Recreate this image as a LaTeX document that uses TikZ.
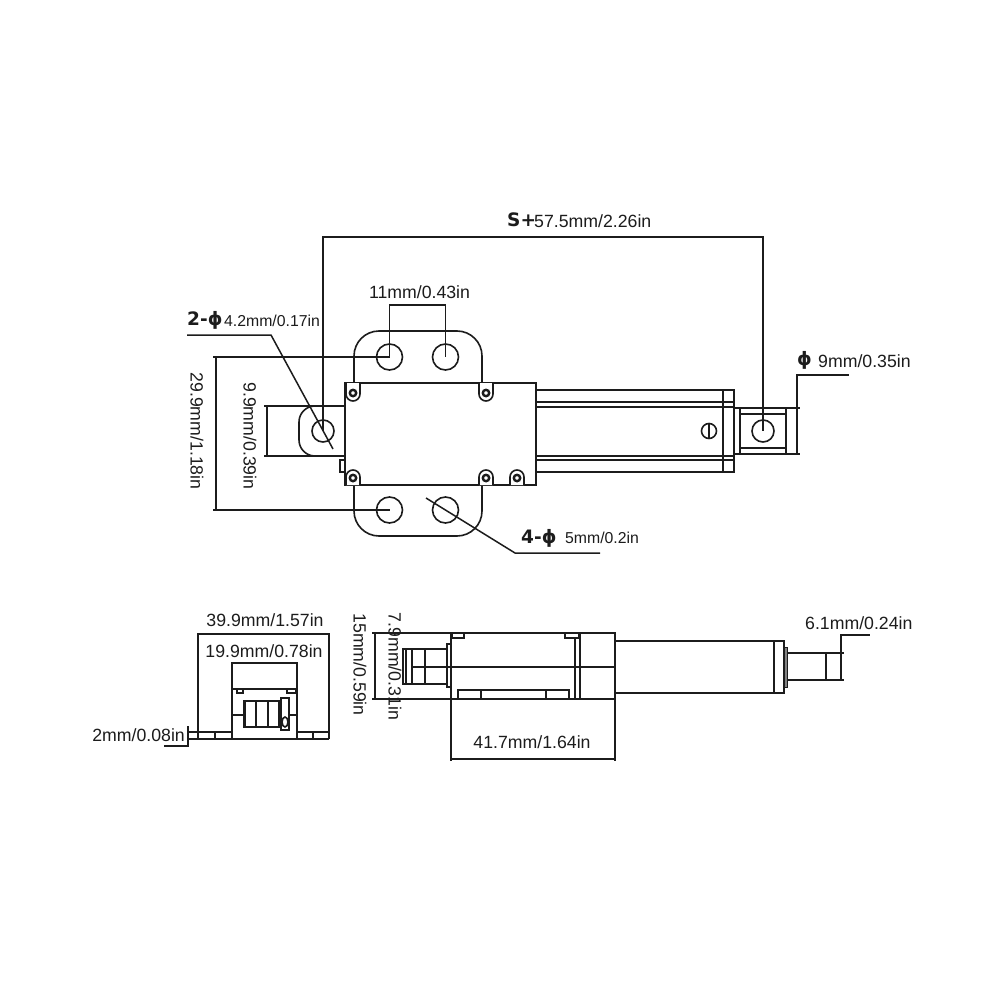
\documentclass[tikz,border=0pt]{standalone}
\usepackage{fontspec}
\setmainfont{Liberation Sans}
\newfontfamily\headfont{DejaVu Sans}[BoldFont={DejaVu Sans Bold}]
\definecolor{ink}{HTML}{1C1C1C}
\tikzset{
   part/.style={draw=ink,line width=1.6pt},
   dimline/.style={draw=ink,line width=1.5pt},
   heavy/.style={draw=ink,line width=2.4pt},
   hole/.style={circle,draw=ink,line width=1.6pt,minimum size=26pt,inner sep=0pt},
   dimtext/.style={text=ink,font=\fontsize{17.7}{20}\selectfont,inner sep=0pt},
   smalltext/.style={text=ink,font=\fontsize{15.8}{18}\selectfont,inner sep=0pt},
   headtext/.style={text=ink,font=\headfont\bfseries\fontsize{18.5}{22}\selectfont,inner sep=0pt},
}
\newcommand{\screwmark}[2]{%
   \draw[part,fill=white] (#1-7,#2+7) -- (#1-7,#2-1) arc[start angle=180,end angle=360,radius=7] -- (#1+7,#2+7);
   \draw[draw=ink,line width=2.4pt] (#1,#2) circle (3.2);}
\newcommand{\topscrew}[2]{%
   \draw[part,fill=white] (#1-7,#2-10) -- (#1-7,#2+1) arc[start angle=180,end angle=0,radius=7] -- (#1+7,#2-10);
   \draw[draw=ink,line width=2.4pt] (#1,#2) circle (3.2);}
\begin{document}
\begin{tikzpicture}[x=1pt,y=-1pt]
   \useasboundingbox[fill=white] (0,0) rectangle (1000,1000);
   % top view
   \draw[part,rounded corners=25pt] (354,390) -- (354,331) -- (482,331) -- (482,390);
   \draw[part,rounded corners=25pt] (354,480) -- (354,536) -- (482,536) -- (482,480);
   \draw[part,rounded corners=16pt] (345,406) -- (299,406) -- (299,456) -- (345,456);
   \draw[part] (536,390) -- (734,390) -- (734,472) -- (536,472);
   \foreach \ypos in {402,407,456,460}
      \draw[part] (536,\ypos) -- (734,\ypos);
   \draw[part] (723,390) -- (723,472);
   \draw[part] (734,408) rectangle (740,454);
   \draw[part] (740,408) rectangle (786,454);
   \draw[part] (740,414) -- (786,414);
   \draw[part] (740,448) -- (786,448);
   \draw[part] (340,460) rectangle (345,472);
   \draw[part,fill=white] (345,383) rectangle (536,485);
   \topscrew{353}{393}
   \topscrew{486}{393}
   \screwmark{353}{478}
   \screwmark{486}{478}
   \screwmark{517}{478}
   \node[hole] (holeA) at (389.5,357) {};
   \node[hole] (holeB) at (445.5,357) {};
   \node[hole] (holeC) at (389.5,510) {};
   \node[hole] (holeD) at (445.5,510) {};
   \node[hole,minimum size=22pt] (holeE) at (323,431) {};
   \node[hole,minimum size=22pt] (holeF) at (763,431) {};
   \node[hole,minimum size=15pt] (pin) at (709,431) {};
   \draw[part] (pin.north) -- (pin.south);
   % dimensions of the top view
   \coordinate (sL) at (323,237);
   \coordinate (sR) at (763,237);
   \draw[dimline] (holeE.center) -- (sL) -- (sR) -- (holeF.center);
   \node[headtext,anchor=west] (strokehead) at (507,220) {S+};
   \node[dimtext,anchor=west] (stroke) at (534,221) {57.5mm/2.26in};
   \coordinate (pitchL) at (389.5,305);
   \coordinate (pitchR) at (445.5,305);
   \draw[dimline] (holeA.center) -- (pitchL) -- (pitchR) -- (holeB.center);
   \node[dimtext] (pitch) at (419.5,292) {11mm/0.43in};
   \coordinate (spanT) at (213,357);
   \coordinate (spanB) at (213,510);
   \draw[dimline] (holeA.center) -- (spanT);
   \draw[dimline] (holeC.center) -- (spanB);
   \draw[dimline] (216,357) -- (216,510);
   \node[dimtext,rotate=-90] (span) at (197,431) {29.9mm/1.18in};
   \draw[dimline] (264,406) -- (345,406);
   \draw[dimline] (264,456) -- (345,456);
   \draw[dimline] (267,406) -- (267,456);
   \node[dimtext,rotate=-90] (earwidth) at (250,436) {9.9mm/0.39in};
   \coordinate (leadA) at (187,335);
   \coordinate (leadB) at (271,335);
   \coordinate (leadC) at (333,449);
   \draw[dimline] (leadA) -- (leadB) -- (leadC);
   \node[headtext,anchor=west] (twophi) at (187,320) {2-ϕ};
   \node[smalltext,anchor=west] (twophival) at (224,321) {4.2mm/0.17in};
   \coordinate (leadD) at (426,498);
   \coordinate (leadE) at (515,553);
   \coordinate (leadF) at (600,553);
   \draw[dimline] (leadD) -- (leadE) -- (leadF);
   \node[headtext,anchor=west] (fourphi) at (521,538) {4-ϕ};
   \node[smalltext,anchor=west] (fourphival) at (565,538) {5mm/0.2in};
   \coordinate (rodT) at (797,375);
   \coordinate (rodE) at (849,375);
   \draw[dimline] (786,408) -- (800,408);
   \draw[dimline] (786,454) -- (800,454);
   \draw[dimline] (797,454) -- (rodT) -- (rodE);
   \node[headtext,anchor=west] (onephi) at (797,360) {ϕ};
   \node[dimtext,anchor=west] (onephival) at (818,361) {9mm/0.35in};
   % end view
   \draw[part] (198,739) -- (198,634) -- (329,634) -- (329,739);
   \draw[part] (232,739) -- (232,663) -- (297,663) -- (297,739);
   \draw[part] (188,732) -- (232,732);
   \draw[part] (297,732) -- (329,732);
   \draw[part] (188,739) -- (329,739);
   \foreach \xpos in {215,313}
      \draw[part] (\xpos,732) -- (\xpos,739);
   \draw[part] (232,689) -- (297,689);
   \draw[part] (232,715) -- (297,715);
   \draw[part] (237,689) rectangle (243,693);
   \draw[part] (287,689) rectangle (296,693);
   \draw[part,fill=white] (244,701) rectangle (279,727);
   \draw[heavy] (245,701) -- (245,727);
   \foreach \xpos in {256,268}
      \draw[part] (\xpos,701) -- (\xpos,727);
   \draw[part,fill=white] (281,698) rectangle (289,730);
   \draw[part] (285,722) ellipse (3 and 5);
   \draw[dimline] (188,726) -- (188,746) -- (164,746);
   \node[dimtext] (endwidth) at (265,620) {39.9mm/1.57in};
   \node[dimtext] (midwidth) at (264,651) {19.9mm/0.78in};
   \node[dimtext,anchor=east] (plate) at (185,735) {2mm/0.08in};
   % side view
   \draw[part] (451,633) rectangle (615,699);
   \draw[part] (447,644) rectangle (451,687);
   \draw[part] (403,649) rectangle (447,684);
   \foreach \xpos in {406,412,425}
      \draw[part] (\xpos,649) -- (\xpos,684);
   \draw[part] (412,667) -- (615,667);
   \draw[part] (452,633) rectangle (464,638);
   \draw[part] (565,633) rectangle (579,638);
   \draw[part] (575,638) -- (575,699);
   \draw[part] (580,633) -- (580,699);
   \draw[part] (458,699) -- (458,690) -- (569,690) -- (569,699);
   \foreach \xpos in {481,546}
      \draw[part] (\xpos,690) -- (\xpos,699);
   \draw[heavy] (615,641) -- (784,641) -- (784,693) -- (615,693);
   \draw[part] (774,641) -- (774,693);
   \draw[draw=ink,fill=ink!55,line width=.8pt] (784,647) rectangle (787,687);
   \draw[part] (787,653) -- (844,653);
   \draw[part] (787,680) -- (844,680);
   \draw[part] (826,653) -- (826,680);
   \draw[dimline] (372,633) -- (451,633);
   \draw[dimline] (372,699) -- (451,699);
   \draw[dimline] (375,633) -- (375,699);
   \node[dimtext,rotate=-90] (sideheight) at (360,664.5) {15mm/0.59in};
   \node[dimtext,rotate=-90] (motorheight) at (395,666.5) {7.9mm/0.31in};
   \draw[dimline] (451,699) -- (451,761);
   \draw[dimline] (615,699) -- (615,761);
   \draw[dimline] (451,759) -- (615,759);
   \node[dimtext] (sidelength) at (532,742) {41.7mm/1.64in};
   \coordinate (tipT) at (841,635);
   \coordinate (tipE) at (870,635);
   \draw[dimline] (841,680) -- (tipT) -- (tipE);
   \node[dimtext,anchor=west] (tipwidth) at (805,623) {6.1mm/0.24in};
\end{tikzpicture}
\end{document}
